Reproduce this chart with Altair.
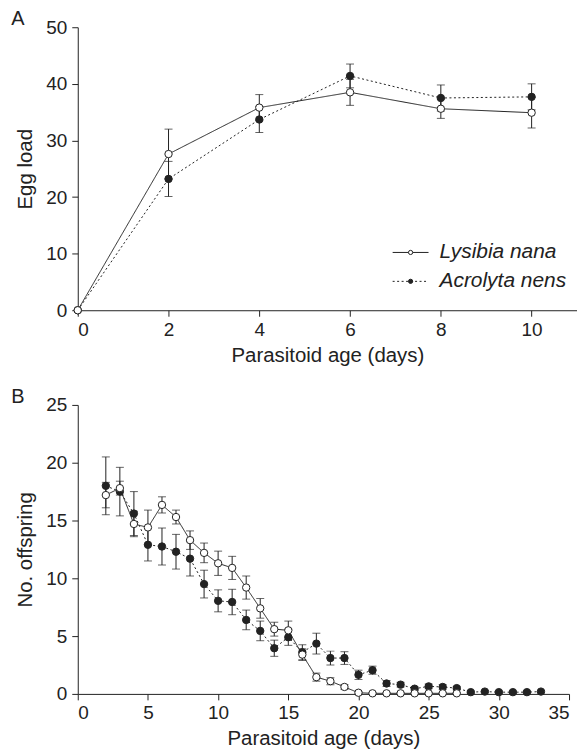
import altair as alt
import pandas as pd

# ---------------- Panel A data ----------------
age_a = [0, 2, 4, 6, 8, 10]
lys_a = [0, 27.6, 35.8, 38.5, 35.6, 34.9]
lys_a_se = [0, 4.4, 2.3, 2.3, 1.7, 2.7]
acr_a = [0, 23.2, 33.7, 41.4, 37.5, 37.7]
acr_a_se = [0, 3.1, 2.3, 2.1, 2.3, 2.3]

# ---------------- Panel B data ----------------
age_b_lys = list(range(2, 28))
lys_b = [17.2, 17.8, 14.7, 14.4, 16.35, 15.3, 13.3, 12.2, 11.3, 10.9, 9.2, 7.4,
         5.6, 5.5, 3.4, 1.45, 1.1, 0.6, 0.1, 0.05, 0.05, 0.05, 0.05, 0.05, 0.05, 0.05]
lys_b_se = [1.1, 0.6, 1.1, 1.5, 0.7, 0.6, 0.8, 0.85, 1.05, 1.0, 1.0, 0.85,
            0.6, 0.8, 0.5, 0.35, 0.3, 0.2, 0.1, 0.05, 0.05, 0.05, 0.05, 0.05, 0.05, 0.05]
age_b_acr = list(range(2, 34))
acr_b = [18.0, 17.5, 15.6, 12.9, 12.75, 12.3, 11.7, 9.5, 8.05, 7.95, 6.4, 5.45,
         3.95, 4.9, 3.6, 4.35, 3.1, 3.1, 1.65, 2.05, 0.9, 0.8, 0.45, 0.65, 0.6, 0.5,
         0.15, 0.2, 0.15, 0.15, 0.15, 0.2]
acr_b_se = [2.5, 2.1, 1.9, 1.4, 1.6, 1.5, 1.5, 1.2, 0.95, 1.1, 0.85, 0.85,
            0.7, 0.7, 0.65, 0.9, 0.6, 0.55, 0.4, 0.35, 0.25, 0.2, 0.15, 0.2, 0.2, 0.15,
            0.1, 0.1, 0.1, 0.1, 0.1, 0.1]

species = ["Lysibia nana", "Acrolyta nens"]
INK = "#222222"
FONT = "Liberation Sans"


def frame(x, y, se):
    df = pd.DataFrame({"x": x, "y": y, "se": se})
    df["lo"] = df["y"] - df["se"]
    df["hi"] = df["y"] + df["se"]
    return df


def panel(lys_df, acr_df, xdom, xvals, ydom, yvals, ytitle, w, h, letter, legend=False):
    xs = alt.Scale(domain=xdom, nice=False, zero=False)
    ys = alt.Scale(domain=ydom, nice=False)
    xax = alt.Axis(values=xvals, title="Parasitoid age (days)", format="d")
    yax = alt.Axis(values=yvals, title=ytitle, format="d")

    def series_layers(df, dash, fill):
        base = alt.Chart(df)
        line = base.mark_line(color=INK, strokeWidth=1, strokeDash=dash).encode(
            x=alt.X("x:Q", scale=xs, axis=xax),
            y=alt.Y("y:Q", scale=ys, axis=yax),
        )
        err = base.transform_filter("datum.se > 0")
        rule = err.mark_rule(color=INK, strokeWidth=1).encode(
            x="x:Q", y="lo:Q", y2="hi:Q")
        cap_lo = err.mark_tick(color=INK, orient="horizontal", size=8, thickness=1).encode(
            x="x:Q", y="lo:Q")
        cap_hi = err.mark_tick(color=INK, orient="horizontal", size=8, thickness=1).encode(
            x="x:Q", y="hi:Q")
        pts = base.mark_point(shape="circle", filled=True, fill=fill, stroke=INK,
                              strokeWidth=1, size=55, opacity=1).encode(x="x:Q", y="y:Q")
        return [line, rule, cap_lo, cap_hi], pts

    acr_layers, acr_pts = series_layers(acr_df, [2, 2.5], INK)
    lys_layers, lys_pts = series_layers(lys_df, [1, 0], "white")

    lab = alt.Chart(pd.DataFrame({"t": [letter]})).mark_text(
        font=FONT, fontSize=20, color=INK, align="center", baseline="middle"
    ).encode(text="t:N", x=alt.value(-60), y=alt.value(-8))

    layers = acr_layers + lys_layers + [acr_pts, lys_pts, lab]

    if legend:
        leg = pd.DataFrame({"name": species, "py": [226, 255],
                            "fill": ["white", INK], "dash": ["solid", "dot"]})
        lb = alt.Chart(leg)
        l1 = lb.transform_filter("datum.dash == 'solid'").mark_rule(color=INK, strokeWidth=1).encode(
            x=alt.value(316), x2=alt.value(352), y=alt.value(226))
        l2 = lb.transform_filter("datum.dash == 'dot'").mark_rule(
            color=INK, strokeWidth=1, strokeDash=[2, 2.5]).encode(
            x=alt.value(316), x2=alt.value(352), y=alt.value(255))
        p1 = lb.transform_filter("datum.dash == 'solid'").mark_point(
            shape="circle", filled=True, fill="white", stroke=INK, strokeWidth=1, size=18, opacity=1
        ).encode(x=alt.value(334), y=alt.value(226))
        p2 = lb.transform_filter("datum.dash == 'dot'").mark_point(
            shape="circle", filled=True, fill=INK, stroke=INK, strokeWidth=1, size=18, opacity=1
        ).encode(x=alt.value(334), y=alt.value(255))
        tx = lb.mark_text(font=FONT, fontSize=21, fontStyle="italic", color=INK,
                          align="left", baseline="middle").encode(
            text="name:N", x=alt.value(363), y=alt.Y("py:Q", scale=None))
        layers += [l1, l2, p1, p2, tx]

    return alt.layer(*layers).properties(width=w, height=h)


pa = panel(frame(age_a, lys_a, lys_a_se), frame(age_a, acr_a, acr_a_se),
           [0, 11], [0, 2, 4, 6, 8, 10], [0, 50], [0, 10, 20, 30, 40, 50],
           "Egg load", 501, 284, "A", legend=True)
pb = panel(frame(age_b_lys, lys_b, lys_b_se), frame(age_b_acr, acr_b, acr_b_se),
           [0, 35], [0, 5, 10, 15, 20, 25, 30, 35], [0, 25], [0, 5, 10, 15, 20, 25],
           "No. offspring", 493, 290, "B")

chart = alt.vconcat(pa, pb, spacing=21).properties(
    padding={"top": 0, "left": 3, "right": 0, "bottom": 0}
).configure_view(stroke=None).configure_axis(
    grid=False,
    domainColor=INK, tickColor=INK, labelColor=INK, titleColor=INK,
    labelFont=FONT, titleFont=FONT, labelFontSize=19, titleFontSize=20.5,
    titleFontWeight="normal", tickSize=6, labelPadding=4, titlePadding=6,
    domainWidth=1, tickWidth=1,
).configure_axisY(titlePadding=10, labelPadding=5)

chart.save("out.html", embed_options={"renderer": "svg", "actions": False})
